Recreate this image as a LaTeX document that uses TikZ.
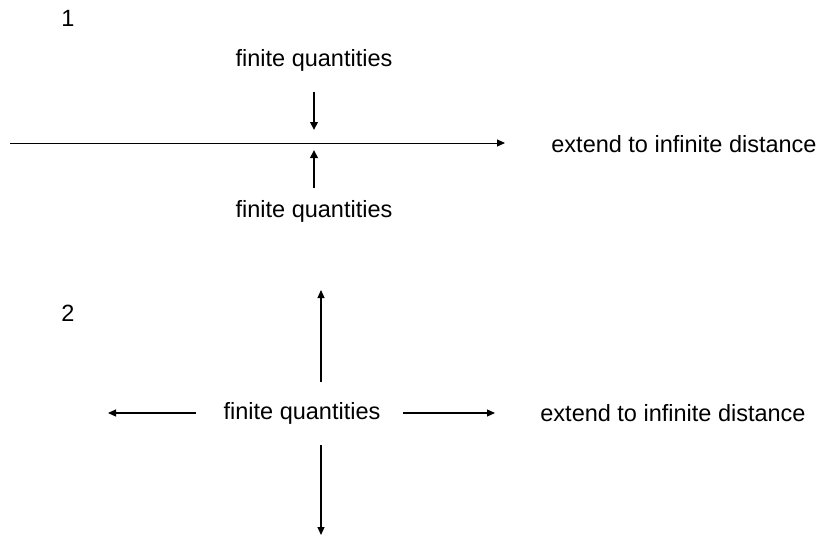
\documentclass[tikz,border=0pt]{standalone}
\usepackage{fontspec}
\setmainfont{Liberation Sans}
\usetikzlibrary{arrows.meta}
\begin{document}
\begin{tikzpicture}[x=1pt,y=-1pt,
  lbl/.style={inner sep=0pt,font=\fontsize{23.5}{26}\selectfont},
  thin arrow/.style={line width=1.1pt,-{Triangle[length=8pt,width=7pt]}},
  bold arrow/.style={line width=2.2pt,-{Triangle[length=8pt,width=7.5pt]}},
  axis line/.style={line width=1pt,-{Triangle[length=8pt,width=7pt]}}]
\useasboundingbox (0,0) rectangle (824,538);
% part 1: a line with finite quantities pressing in from both sides
\node[lbl] (n1) at (68,18) {1};
\node[lbl] (top) at (314,60) {finite quantities};
\node[lbl] (bot) at (314,211) {finite quantities};
\node[lbl] (ext1) at (684,144) {extend to infinite distance};
\coordinate (h0) at (10,143);
\coordinate (h1) at (505,143);
\coordinate (d0) at (314,92);
\coordinate (d1) at (314,130);
\coordinate (u0) at (314,188);
\coordinate (u1) at (314,150);
\draw[axis line] (h0) -- (h1);
\draw[bold arrow] (d0) -- (d1);
\draw[bold arrow] (u0) -- (u1);
% part 2: finite quantities spreading out in all directions
\node[lbl] (n2) at (68,313) {2};
\node[lbl] (fq) at (302,413) {finite quantities};
\node[lbl] (ext2) at (673,413) {extend to infinite distance};
\coordinate (up0) at (321,382);
\coordinate (up1) at (321,290);
\coordinate (dn0) at (321,445);
\coordinate (dn1) at (321,535);
\coordinate (lf0) at (196,413);
\coordinate (lf1) at (108,413);
\coordinate (rt0) at (403,413);
\coordinate (rt1) at (495,413);
\draw[thin arrow] (up0) -- (up1);
\draw[thin arrow] (dn0) -- (dn1);
\draw[thin arrow] (lf0) -- (lf1);
\draw[thin arrow] (rt0) -- (rt1);
\end{tikzpicture}
\end{document}
